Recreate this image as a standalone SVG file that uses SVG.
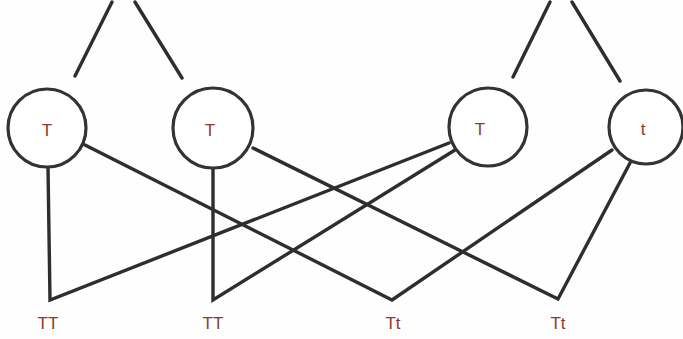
<svg xmlns="http://www.w3.org/2000/svg" width="683" height="339" viewBox="0 0 683 339">
<style>
.ln{stroke:#2e2e2e;stroke-width:3.4;fill:none;stroke-linecap:round}
.nd{stroke:#333;stroke-width:3.2;fill:#fff}
.lb{font-family:"Liberation Sans",Arial,sans-serif;font-size:17px;fill:#8a3b2c;text-anchor:middle}
</style>
<rect width="683" height="339" fill="#fdfefd"/>
<g id="connectors">
<line class="ln" x1="112" y1="2" x2="75" y2="76"/>
<line class="ln" x1="135" y1="2" x2="182" y2="78"/>
<line class="ln" x1="550" y1="2" x2="513" y2="77"/>
<line class="ln" x1="572" y1="2" x2="620" y2="81"/>
<polyline class="ln" points="48,167 50,300 449,143"/>
<polyline class="ln" points="85,145 392,300 612,150"/>
<polyline class="ln" points="213,168 213,300 455,150"/>
<polyline class="ln" points="253,148 558,299 630,163"/>
</g>
<g id="n1"><circle class="nd" cx="47" cy="128" r="39"/><text class="lb" x="47" y="136">T</text></g>
<g id="n2"><circle class="nd" cx="213" cy="128" r="40"/><text class="lb" x="210" y="136">T</text></g>
<g id="n3"><circle class="nd" cx="488" cy="127" r="39"/><text class="lb" x="480" y="135">T</text></g>
<g id="n4"><circle class="nd" cx="646" cy="127" r="37"/><text class="lb" x="643" y="135">t</text></g>
<g id="l1"><text class="lb" x="48" y="329">TT</text></g>
<g id="l2"><text class="lb" x="213" y="329">TT</text></g>
<g id="l3"><text class="lb" x="393" y="329">Tt</text></g>
<g id="l4"><text class="lb" x="558" y="329">Tt</text></g>
</svg>
